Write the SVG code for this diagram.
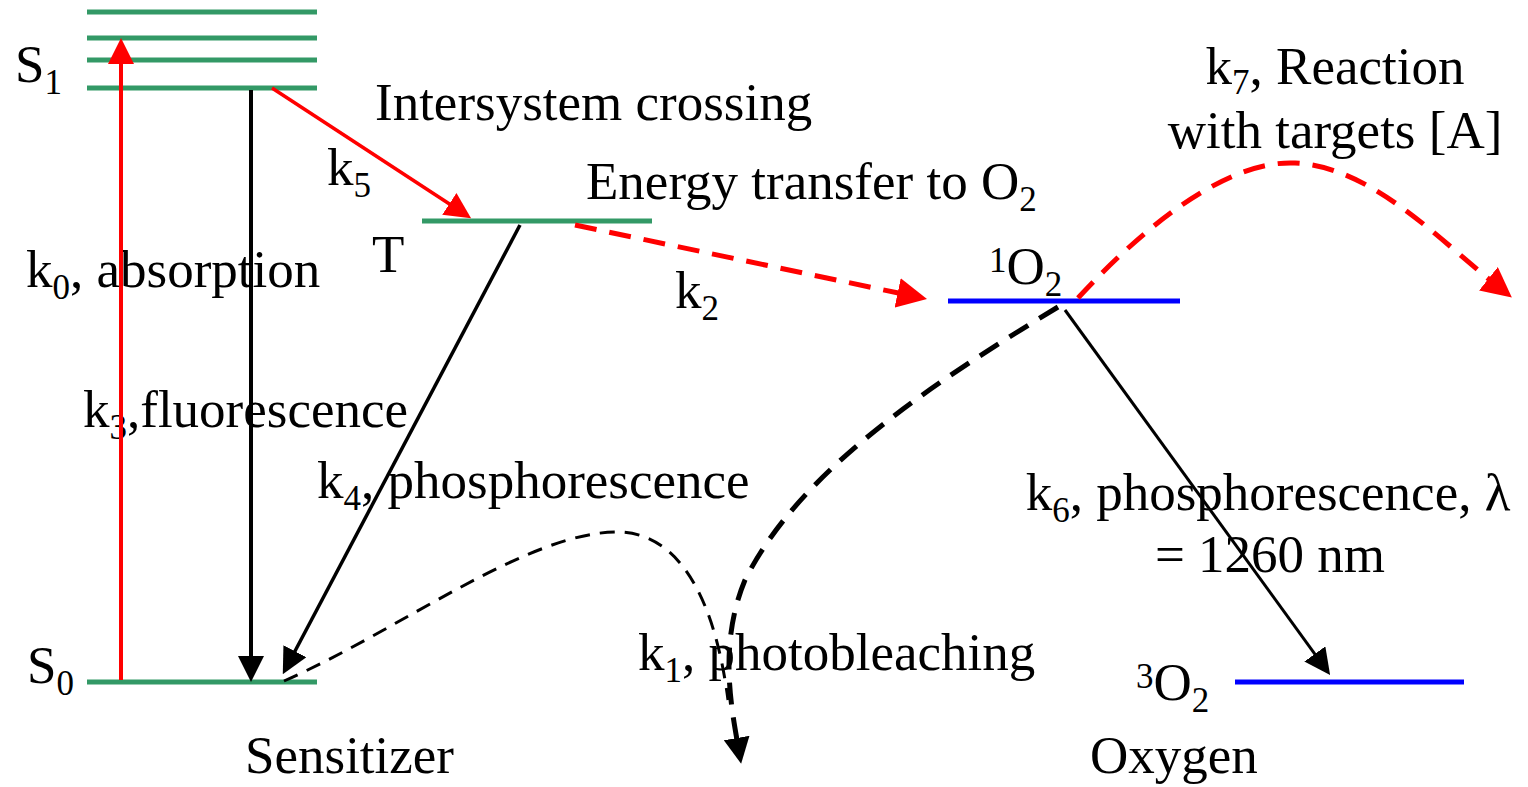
<svg xmlns="http://www.w3.org/2000/svg" width="1528" height="787" viewBox="0 0 1528 787">
<defs>
<style>
text{font-family:"Liberation Serif","Times New Roman",serif;font-size:53px;fill:#000}
.sub{font-size:35px}
.lvg{stroke:#339966;stroke-width:5;fill:none}
.lvb{stroke:#0000ff;stroke-width:5;fill:none}
.red{stroke:#ff0000;fill:none}
.blk{stroke:#000;fill:none}
.dashT{stroke-width:5;stroke-dasharray:22 13}
.dashS{stroke-width:3;stroke-dasharray:15 10}
</style>
<marker id="ar" markerUnits="userSpaceOnUse" markerWidth="26" markerHeight="26" refX="2" refY="13" orient="auto" viewBox="0 0 26 26"><path d="M0,0 L26,13 L0,26 z" fill="#ff0000"/></marker>
<marker id="ab" markerUnits="userSpaceOnUse" markerWidth="26" markerHeight="26" refX="2" refY="13" orient="auto" viewBox="0 0 26 26"><path d="M0,0 L26,13 L0,26 z" fill="#000"/></marker>
<marker id="arL" markerUnits="userSpaceOnUse" markerWidth="30" markerHeight="30" refX="2" refY="15" orient="auto" viewBox="0 0 30 30"><path d="M0,0 L30,15 L0,30 z" fill="#ff0000"/></marker>
</defs>
<rect width="1528" height="787" fill="#fff"/>

<g id="S1">
<line class="lvg" x1="87" y1="12" x2="317" y2="12"/>
<line class="lvg" x1="87" y1="38" x2="317" y2="38"/>
<line class="lvg" x1="87" y1="60" x2="317" y2="60"/>
<line class="lvg" x1="87" y1="88" x2="317" y2="88"/>
<text x="15" y="82">S<tspan class="sub" dy="12">1</tspan></text>
</g>
<g id="S0">
<line class="lvg" x1="87" y1="682" x2="317" y2="682"/>
<text x="27" y="683">S<tspan class="sub" dy="12">0</tspan></text>
</g>
<g id="T">
<line class="lvg" x1="422" y1="221" x2="652" y2="221"/>
<text x="372" y="272">T</text>
</g>
<g id="singletO2">
<line class="lvb" x1="948" y1="301" x2="1180" y2="301"/>
<text x="989" y="284"><tspan class="sub" dy="-12">1</tspan><tspan dy="12">O</tspan><tspan class="sub" dy="12">2</tspan></text>
</g>
<g id="tripletO2">
<line class="lvb" x1="1235" y1="682" x2="1464" y2="682"/>
<text x="1136" y="700"><tspan class="sub" dy="-12">3</tspan><tspan dy="12">O</tspan><tspan class="sub" dy="12">2</tspan></text>
</g>
<g id="captions">
<text x="245" y="773">Sensitizer</text>
<text x="1090" y="773">Oxygen</text>
</g>

<g id="labels">
<text x="375" y="120">Intersystem crossing</text>
<text x="327" y="185">k<tspan class="sub" dy="12">5</tspan></text>
<text x="26" y="287">k<tspan class="sub" dy="12">0</tspan><tspan dy="-12">, absorption</tspan></text>
<text x="586" y="199">Energy transfer to O<tspan class="sub" dy="12">2</tspan></text>
<text x="675" y="308">k<tspan class="sub" dy="12">2</tspan></text>
<text x="1335" y="84" text-anchor="middle">k<tspan class="sub" dy="10">7</tspan><tspan dy="-10">, Reaction</tspan></text>
<text x="1335" y="148" text-anchor="middle">with targets [A]</text>
<text x="83" y="427">k<tspan class="sub" dy="12">3</tspan><tspan dy="-12">,fluorescence</tspan></text>
<text x="317" y="498">k<tspan class="sub" dy="12">4</tspan><tspan dy="-12">, phosphorescence</tspan></text>
<text x="1268" y="510" text-anchor="middle">k<tspan class="sub" dy="12">6</tspan><tspan dy="-12">, phosphorescence, λ</tspan></text>
<text x="1270" y="572" text-anchor="middle">= 1260 nm</text>
<text x="638" y="670">k<tspan class="sub" dy="12">1</tspan><tspan dy="-12">, photobleaching</tspan></text>
</g>

<g id="connectors">
<line class="red" stroke-width="4" x1="121" y1="680" x2="121" y2="62" marker-end="url(#ar)"/>
<line class="blk" stroke-width="4" x1="251" y1="90" x2="251" y2="658" marker-end="url(#ab)"/>
<line class="red" stroke-width="3.5" x1="272" y1="88" x2="451" y2="205" marker-end="url(#ar)"/>
<line class="blk" stroke-width="3.5" x1="520" y1="225" x2="294" y2="653" marker-end="url(#ab)"/>
<line class="red dashT" x1="575" y1="225" x2="899.6" y2="293.3" marker-end="url(#arL)"/>
<line class="blk" stroke-width="3" x1="1065" y1="310" x2="1316" y2="655.6" marker-end="url(#ab)"/>
<path class="blk dashS" d="M284 681 C400 630,530 530,620 532 C680 534,715 600,728 700"/>
<path class="blk dashT" d="M1058 307 C930 385,800 470,745 580 C720 640,730 700,737 740" marker-end="url(#ab)"/>
<path class="red dashT" d="M1078 298 C1150 220,1230 160,1295 163 C1370 166,1440 240,1490 280" marker-end="url(#arL)"/>
</g>
</svg>
